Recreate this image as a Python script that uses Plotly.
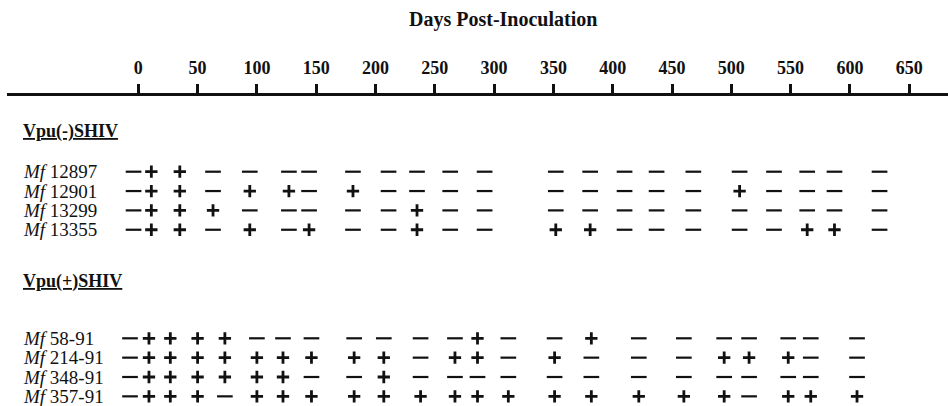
import plotly.graph_objects as go

# ---- figure geometry (pixels) ----
W, H = 948, 406
LEFT, TOP = 7, 96                 # plot area starts where the time axis is drawn
PX_DAY0, PX_PER_DAY = 138.3, 1.186

# ---- time axis ----
tick_days = list(range(0, 651, 50))
axis_title = "Days Post-Inoculation"

# ---- Vpu(-)SHIV group ----
neg_group = "Vpu(-)SHIV"
neg_animals = ["12897", "12901", "13299", "13355"]
neg_days = [-4, 11, 35, 63, 94, 127, 144, 181, 211, 235, 263, 292,
            352, 381, 410, 437, 468, 507, 536, 564, 587, 625]
mf_12897 = list("-++-----" "-------" "-------")
mf_12901 = list("-++-++-+" "-------" "--+----")
mf_13299 = list("-+++----" "-+-----" "-------")
mf_13355 = list("-++-+-+-" "-+--++-" "----++-")

# ---- Vpu(+)SHIV group ----
pos_group = "Vpu(+)SHIV"
pos_animals = ["58-91", "214-91", "348-91", "357-91"]
pos_days = [-7, 9, 27, 50, 73, 100, 122, 146, 182, 207, 238, 267,
            286, 312, 351, 382, 422, 460, 494, 515, 548, 567, 606]
mf_58_91 = list("-++++----" "---+--+-------")
mf_214_91 = list("-++++++++" "+-++-+---+++--")
mf_348_91 = list("-++++++--" "+-------------")
mf_357_91 = list("-+++-++++" "++++++++++-+++")

neg_results = [mf_12897, mf_12901, mf_13299, mf_13355]
pos_results = [mf_58_91, mf_214_91, mf_348_91, mf_357_91]

# ---- row layout (pixel rows from the top of the page) ----
ROW_GAP = 19.35
neg_header_y, neg_first_row = 131.0, 171.7
pos_header_y, pos_first_row = 281.0, 338.3
LABEL_PX = 21.0

FONT = "Liberation Serif"
INK = "#111111"


def paper_x(px):
    return (px - LEFT) / (W - LEFT)


def paper_y(px):
    return (H - px) / (H - TOP)


fig = go.Figure()


def add_group(days, animals, results, first_row):
    plus_x, plus_y, minus_x, minus_y = [], [], [], []
    for i, (animal, res) in enumerate(zip(animals, results)):
        row_y = first_row + i * ROW_GAP
        for d, r in zip(days, res):
            if r == "+":
                plus_x.append(d)
                plus_y.append(row_y)
            else:
                minus_x.append(d)
                minus_y.append(row_y)
        fig.add_annotation(
            x=paper_x(LABEL_PX), y=paper_y(row_y), xref="paper", yref="paper",
            text=f"<i>Mf</i> {animal}", showarrow=False,
            xanchor="left", yanchor="middle",
            font=dict(family=FONT, size=19, color=INK),
        )
    fig.add_trace(go.Scatter(
        x=minus_x, y=minus_y, mode="markers", hoverinfo="skip",
        marker=dict(symbol="line-ew", size=11.2,
                    line=dict(width=2.2, color=INK)),
    ))
    fig.add_trace(go.Scatter(
        x=plus_x, y=plus_y, mode="markers", hoverinfo="skip",
        marker=dict(symbol="cross-thin", size=8.8,
                    line=dict(width=2.8, color=INK)),
    ))


add_group(neg_days, neg_animals, neg_results, neg_first_row)
add_group(pos_days, pos_animals, pos_results, pos_first_row)

for name, hy in [(neg_group, neg_header_y), (pos_group, pos_header_y)]:
    fig.add_annotation(
        x=paper_x(LABEL_PX), y=paper_y(hy), xref="paper", yref="paper",
        text=name, showarrow=False, xanchor="left", yanchor="middle",
        font=dict(family=FONT, size=18, color=INK, weight="bold",
                  lineposition="under"),
    )

fig.add_annotation(
    x=paper_x(502.5), y=paper_y(19), xref="paper", yref="paper",
    text=axis_title, showarrow=False, xanchor="center", yanchor="middle",
    font=dict(family=FONT, size=20, color=INK, weight="bold"),
)

x_lo = (LEFT - PX_DAY0) / PX_PER_DAY
x_hi = (W - PX_DAY0) / PX_PER_DAY

fig.update_layout(
    width=W, height=H,
    margin=dict(l=LEFT, r=0, t=TOP, b=0, pad=0),
    paper_bgcolor="white", plot_bgcolor="white",
    showlegend=False,
    xaxis=dict(
        range=[x_lo, x_hi], side="top", showgrid=False, zeroline=False,
        showline=True, linewidth=3, linecolor=INK,
        ticks="outside", ticklen=9, tickwidth=3, tickcolor=INK,
        ticklabelstandoff=3,
        tickvals=tick_days, ticktext=[str(t) for t in tick_days],
        tickfont=dict(family=FONT, size=18, color=INK, weight="bold"),
        fixedrange=True,
    ),
    yaxis=dict(
        range=[H, TOP], visible=False, showgrid=False, zeroline=False,
        fixedrange=True,
    ),
)

fig.write_html("out.html")
